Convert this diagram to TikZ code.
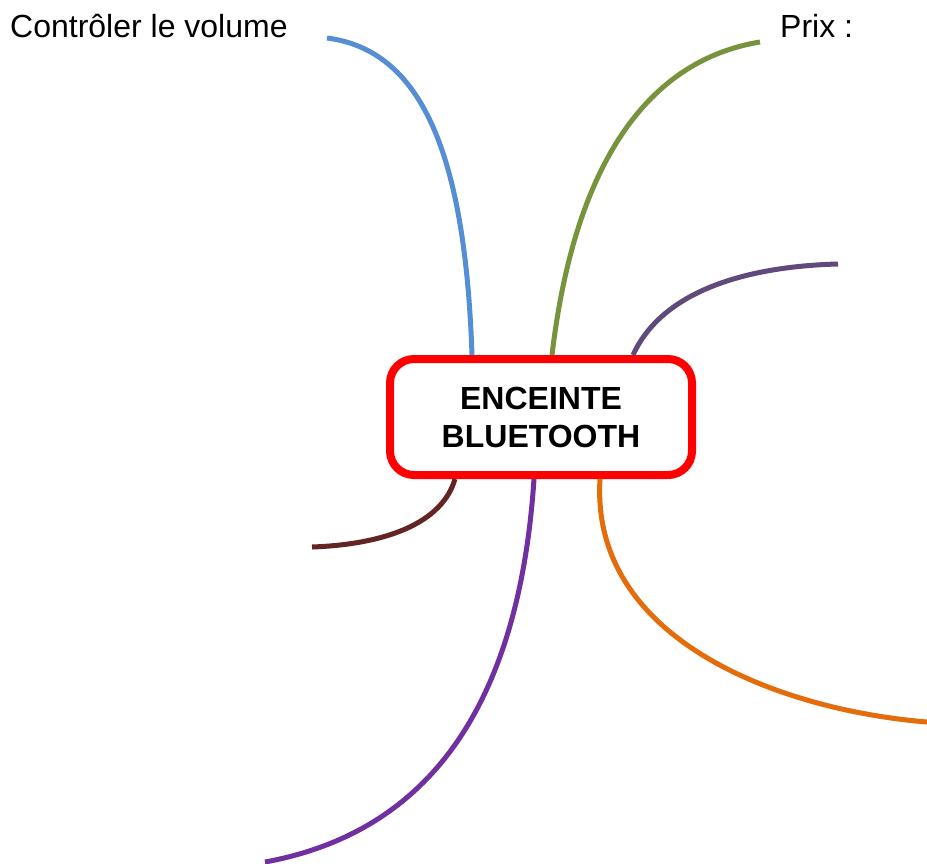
\documentclass[tikz,border=0pt]{standalone}
\usepackage{fontspec}
\setmainfont{Liberation Sans}
\usepackage{tikz}
\usetikzlibrary{shapes.geometric, arrows}

\definecolor{brblue}{HTML}{558ED5}
\definecolor{brgreen}{HTML}{77933C}
\definecolor{brviolet}{HTML}{604A7B}
\definecolor{brbrown}{HTML}{632523}
\definecolor{brpurple}{HTML}{7030A0}
\definecolor{brorange}{HTML}{E46C0A}

\begin{document}
\begin{tikzpicture}[
                x=1pt, y=-1pt,
                every node/.style={font=\fontsize{32}{38}\selectfont}, % text size
                centre/.style={draw=red, line width=8pt, rounded corners=24pt, fill=white, align=center,
                    minimum width=302pt, minimum height=116pt, font=\bfseries\fontsize{32}{38}\selectfont}, % middle box
                branch/.style={line width=5pt} % curved branches
                ]
                \useasboundingbox (0,0) rectangle (927,863);
                \node[centre] (centre) at (541,417) {ENCEINTE\\BLUETOOTH};
                \node[anchor=base west, inner sep=0pt] (volume) at (10,37) {Contrôler le volume};
                \node[anchor=base west, inner sep=0pt] (prix) at (780,37) {Prix :};
                % free ends of the branches
                \coordinate (volend) at (327,38);
                \coordinate (prixend) at (760,42);
                \coordinate (violetend) at (838,264);
                \coordinate (brownend) at (312,547);
                \coordinate (purpleend) at (265,862);
                \coordinate (orangeend) at (927,722);
                \draw[branch, brblue] ([xshift=-69pt]centre.north) .. controls (465,150) and (420,50) .. (volend);
                \draw[branch, brgreen] ([xshift=11pt]centre.north) .. controls (575,160) and (650,60) .. (prixend);
                \draw[branch, brviolet] ([xshift=92pt]centre.north) .. controls (665,285) and (760,266) .. (violetend);
                \draw[branch, brbrown] ([xshift=-86pt]centre.south) .. controls (440,530) and (370,545) .. (brownend);
                \draw[branch, brpurple] ([xshift=-7pt]centre.south) .. controls (520,690) and (440,830) .. (purpleend);
                \draw[branch, brorange] ([xshift=59pt]centre.south) .. controls (590,640) and (780,710) .. (orangeend);
            \end{tikzpicture}
\end{document}
